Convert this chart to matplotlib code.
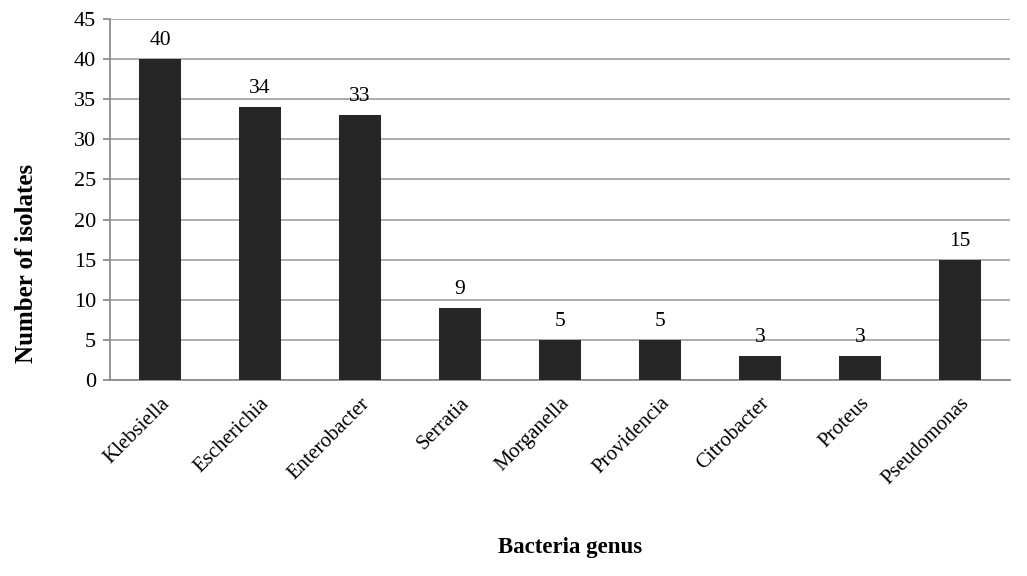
import matplotlib.pyplot as plt
from matplotlib.transforms import ScaledTranslation

genus = ['Klebsiella', 'Escherichia', 'Enterobacter', 'Serratia', 'Morganella',
         'Providencia', 'Citrobacter', 'Proteus', 'Pseudomonas']
isolates = [40, 34, 33, 9, 5, 5, 3, 3, 15]

plt.rcParams['font.family'] = ['Liberation Serif', 'DejaVu Serif']

fig = plt.figure(figsize=(10.27, 5.76), dpi=100)
ax = fig.add_axes([110 / 1027, 1 - 380 / 576, 900 / 1027, 361 / 576])

x = range(len(genus))
bars = ax.bar(x, isolates, width=0.42, color='#262626', zorder=3)
for b, v in zip(bars, isolates):
    ax.text(b.get_x() + b.get_width() / 2, v + 1.1, str(v), ha='center', va='bottom', fontsize=15.5)

ax.set_xlim(-0.5, len(genus) - 0.5)
ax.set_ylim(0, 45)
ax.set_yticks(range(0, 46, 5))
ax.yaxis.grid(True, color='#a6a6a6', linewidth=1.3, zorder=0)
ax.set_axisbelow(True)

ax.set_xticks(list(x))
ax.set_xticklabels(genus, rotation=45, ha='right', rotation_mode='anchor', fontsize=15)
shift = ScaledTranslation(5 / 100, 0, fig.dpi_scale_trans)
for lab in ax.get_xticklabels():
    lab.set_transform(lab.get_transform() + shift)
ax.tick_params(axis='x', length=0, pad=10)
ax.tick_params(axis='y', length=5, color='#8c8c8c', width=1.3, labelsize=16, pad=5)

for s in ['top', 'right']:
    ax.spines[s].set_visible(False)
for s in ['left', 'bottom']:
    ax.spines[s].set_color('#8c8c8c')
    ax.spines[s].set_linewidth(1.3)

fig.text(27 / 1027, 1 - 263 / 576, 'Number of isolates', rotation=90, ha='center', va='center',
         fontsize=18, fontweight='bold')
fig.text(570 / 1027, 1 - 548 / 576, 'Bacteria genus', ha='center', va='center',
         fontsize=16.5, fontweight='bold')

plt.savefig('out.png', dpi=100)
